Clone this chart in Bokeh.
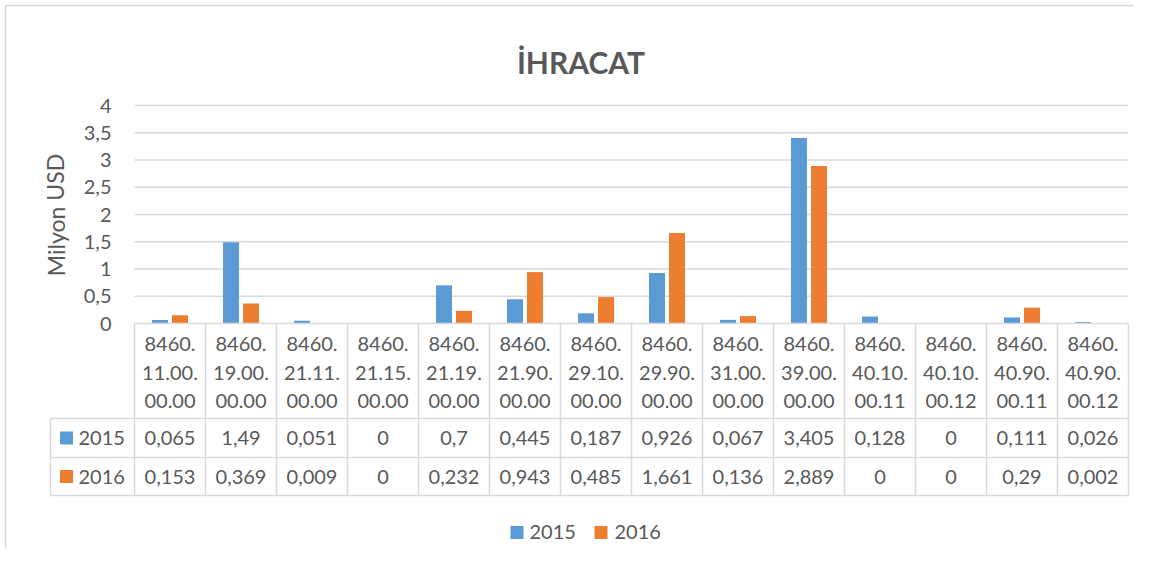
from bokeh.plotting import figure
from bokeh.models import Range1d
from bokeh.embed import file_html
from bokeh.resources import INLINE
from bokeh.core.properties import value

# ---------------- data ----------------
codes = ["8460.11.00.00.00", "8460.19.00.00.00", "8460.21.11.00.00", "8460.21.15.00.00",
         "8460.21.19.00.00", "8460.21.90.00.00", "8460.29.10.00.00", "8460.29.90.00.00",
         "8460.31.00.00.00", "8460.39.00.00.00", "8460.40.10.00.11", "8460.40.10.00.12",
         "8460.40.90.00.11", "8460.40.90.00.12"]
v2015 = [0.065, 1.49, 0.051, 0, 0.7, 0.445, 0.187, 0.926, 0.067, 3.405, 0.128, 0, 0.111, 0.026]
v2016 = [0.153, 0.369, 0.009, 0, 0.232, 0.943, 0.485, 1.661, 0.136, 2.889, 0, 0, 0.29, 0.002]
series_names = ["2015", "2016"]
y_ticks = [0, 0.5, 1, 1.5, 2, 2.5, 3, 3.5, 4]
title_text = "İHRACAT"
y_title = "Milyon USD"

# ---------------- style ----------------
BLUE = "#5b9bd5"
ORANGE = "#ed7d31"
TXT = "#595959"
GRID = "#d9d9d9"
FONT = value("Lato")
FS = "20px"

W, H = 1134, 549
OX, OY = 0, 0             # page position of the figure as photographed
X0, CW = 134.0, 71.0      # left of category area, column width in px
Y0, UH = 323.0, 54.5      # zero line px, px per unit


def U(px):
    return (px - X0) / CW


def V(py):
    return (Y0 - py) / UH


def fmt(x):
    return f"{x:g}".replace(".", ",")


n = len(codes)
p = figure(width=W, height=H, output_backend="svg", toolbar_location=None,
           x_range=Range1d(U(OX), U(OX + W)), y_range=Range1d(V(OY + H), V(OY)),
           x_axis_type=None, y_axis_type=None, min_border=0,
           outline_line_color=None, background_fill_color="white",
           border_fill_color="white")
p.grid.visible = False

# chart border (left & top)
p.segment(x0=[U(5), U(5)], y0=[V(5), V(5)], x1=[U(5), U(OX + W)], y1=[V(OY + H), V(5)],
          line_color=GRID, line_width=1.5)

# gridlines
gt = [t for t in y_ticks if t != 0]
p.segment(x0=[0] * len(gt), y0=gt, x1=[n] * len(gt), y1=gt, line_color=GRID, line_width=1.5)

# bars
off, bw = 0.141, 0.225
xs = [i + 0.5 for i in range(n)]
p.vbar(x=[x - off for x in xs], top=v2015, width=bw, bottom=0, fill_color=BLUE, line_color=None)
p.vbar(x=[x + off for x in xs], top=v2016, width=bw, bottom=0, fill_color=ORANGE, line_color=None)

# y tick labels
p.text(x=[U(111)] * len(y_ticks), y=y_ticks, text=[fmt(t) for t in y_ticks],
       text_font=FONT, text_font_size=FS, text_color=TXT,
       text_align="right", text_baseline="middle")

# y axis title
p.text(x=[U(55)], y=[V(214.5)], text=[y_title], angle=1.5708,
       text_font=FONT, text_font_size="23px", text_color=TXT,
       text_align="center", text_baseline="middle")

# title
p.text(x=[U(580.5)], y=[V(61)], text=[title_text], text_font=FONT, text_font_size="30px",
       text_font_style="bold", text_color=TXT, text_align="center", text_baseline="alphabetic")

# ---- data table ----
r_head_bot, r1_bot, r2_bot = V(418), V(457), V(495)
leg_left = U(50)
p.segment(x0=[0], y0=[0], x1=[n], y1=[0], line_color=GRID, line_width=1.5)
p.segment(x0=[leg_left] * 3, y0=[r_head_bot, r1_bot, r2_bot], x1=[n] * 3,
          y1=[r_head_bot, r1_bot, r2_bot], line_color=GRID, line_width=1.5)
p.segment(x0=list(range(n + 1)), y0=[0] * (n + 1), x1=list(range(n + 1)), y1=[r2_bot] * (n + 1),
          line_color=GRID, line_width=1.5)
p.segment(x0=[leg_left], y0=[r_head_bot], x1=[leg_left], y1=[r2_bot], line_color=GRID, line_width=1.5)

# header text (3 lines per code)
parts = [c.split(".") for c in codes]
lines = [[pp[0] + "." for pp in parts],
         [pp[1] + "." + pp[2] + "." for pp in parts],
         [pp[3] + "." + pp[4] for pp in parts]]
for li, ly in zip(lines, [343.5, 372, 400.5]):
    p.text(x=xs, y=[V(ly)] * n, text=li, text_font=FONT, text_font_size=FS,
           text_color=TXT, text_align="center", text_baseline="middle")

row_y = [V(437.5), V(476)]
for vals, ry, name, col in zip([v2015, v2016], row_y, series_names, [BLUE, ORANGE]):
    p.text(x=xs, y=[ry] * n, text=[fmt(v) for v in vals], text_font=FONT, text_font_size=FS,
           text_color=TXT, text_align="center", text_baseline="middle")
    p.scatter(x=[U(66)], y=[ry], marker="square", size=13, fill_color=col, line_color=None)
    p.text(x=[U(78)], y=[ry], text=[name], text_font=FONT, text_font_size=FS,
           text_color=TXT, text_align="left", text_baseline="middle")

# bottom legend
for name, col, sq, tx in zip(series_names, [BLUE, ORANGE], [516.5, 600.5], [529, 614]):
    p.scatter(x=[U(sq)], y=[V(532)], marker="square", size=13, fill_color=col, line_color=None)
    p.text(x=[U(tx)], y=[V(531)], text=[name], text_font=FONT, text_font_size=FS,
           text_color=TXT, text_align="left", text_baseline="middle")

open("out.html", "w").write(file_html(p, INLINE))
